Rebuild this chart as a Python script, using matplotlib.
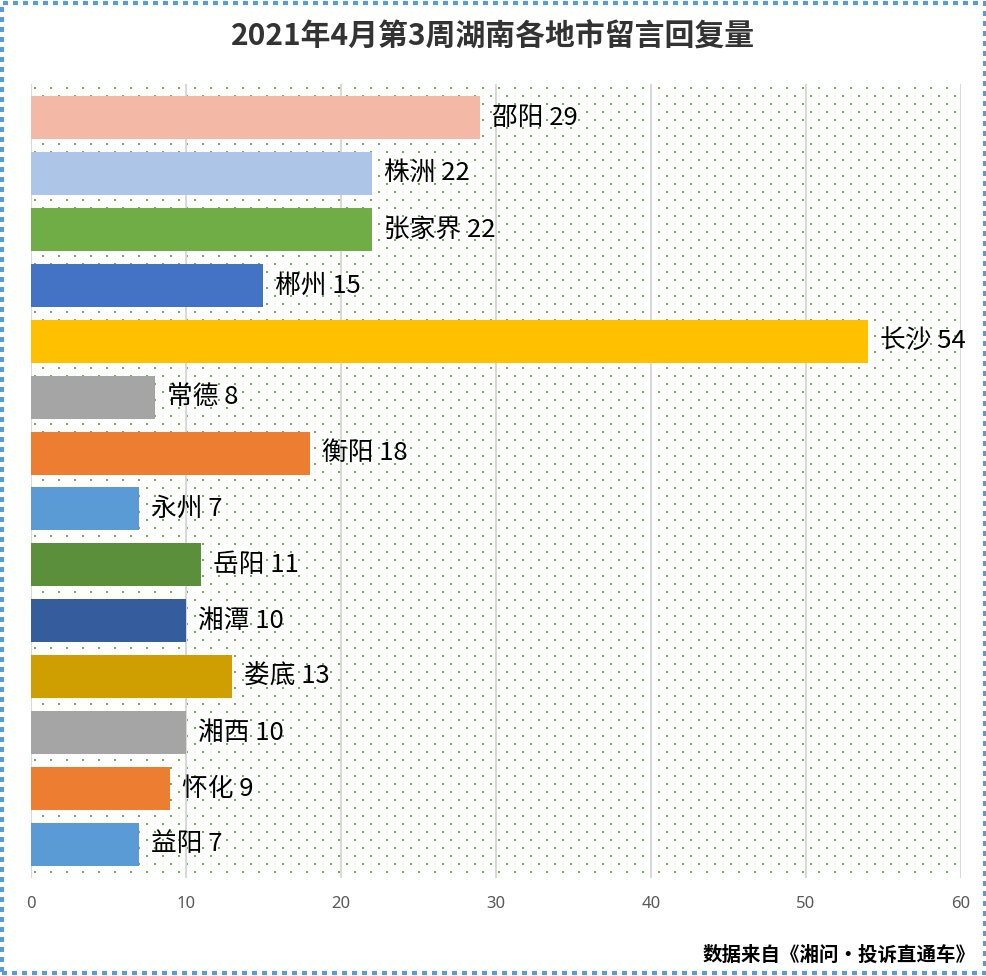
import numpy as np
import matplotlib
matplotlib.use('Agg')
from matplotlib import pyplot as plt
from matplotlib.patches import Rectangle

plt.rcParams['font.family'] = ['Noto Sans CJK SC', 'DejaVu Sans']

cities = ['邵阳', '株洲', '张家界', '郴州', '长沙', '常德', '衡阳',
          '永州', '岳阳', '湘潭', '娄底', '湘西', '怀化', '益阳']
counts = [29, 22, 22, 15, 54, 8, 18, 7, 11, 10, 13, 10, 9, 7]
colors = ['#F4B9A6', '#ADC5E7', '#70AD47', '#4472C4', '#FFC000', '#A5A5A5', '#ED7D31',
          '#5B9BD5', '#5B8F3C', '#355D9E', '#CF9E00', '#A5A5A5', '#ED7D31', '#5B9BD5']
xticks = [0, 10, 20, 30, 40, 50, 60]

W, H = 987, 976
fig = plt.figure(figsize=(W / 100, H / 100), dpi=100)
ax = fig.add_axes([31 / W, 1 - 878 / H, 930 / W, 794 / H])

# dotted background texture (staggered green dots, 16px x 8px)
aw, ah = 930, 794
rows = np.arange(4, ah, 8)
px, py = [], []
for k, r in enumerate(rows):
    start = 8 if k % 2 else 0
    cols = np.arange(start + 4, aw, 16)
    px.extend(cols / aw)
    py.extend([1 - r / ah] * len(cols))
ax.scatter(px, py, s=3.2, marker='s', color='#70AD47', linewidths=0,
           transform=ax.transAxes, zorder=0)

y = np.arange(len(cities))
ax.barh(y, counts, height=0.77, color=colors, zorder=3)
for yi, c, v in zip(y, cities, counts):
    ax.annotate(f'{c} {v}', (v, yi), xytext=(8.5, 0), textcoords='offset points',
                va='center', ha='left', fontsize=18.5, color='black', zorder=4)

ax.set_xlim(0, 60)
ax.set_ylim(len(cities) - 0.4, -0.6)
ax.set_xticks(xticks)
ax.set_yticks([])
ax.grid(axis='x', color='#D9D9D9', linewidth=1.5, zorder=1)
ax.set_axisbelow(True)
for s in ax.spines.values():
    s.set_visible(False)
ax.tick_params(axis='x', length=0, pad=13, labelsize=12, labelcolor='#595959')
for lab in ax.get_xticklabels():
    lab.set_family(['Noto Sans', 'DejaVu Sans'])

fig.text(493 / W, 1 - 37 / H, '2021年4月第3周湖南各地市留言回复量', ha='center', va='center',
         fontsize=21.5, fontweight='bold', color='#333333')
fig.text(976 / W, 1 - 955 / H, '数据来自《湘问·投诉直通车》', ha='right', va='center',
         fontsize=14, fontweight='bold', color='black')

fig.patches.append(Rectangle((2 / W, 3 / H), 983 / W, 970 / H, transform=fig.transFigure,
                             fill=False, edgecolor='#5B9BD5', linewidth=3,
                             linestyle=(0, (1.2, 1.2)), capstyle='butt'))

fig.savefig('out.png', dpi=100)
